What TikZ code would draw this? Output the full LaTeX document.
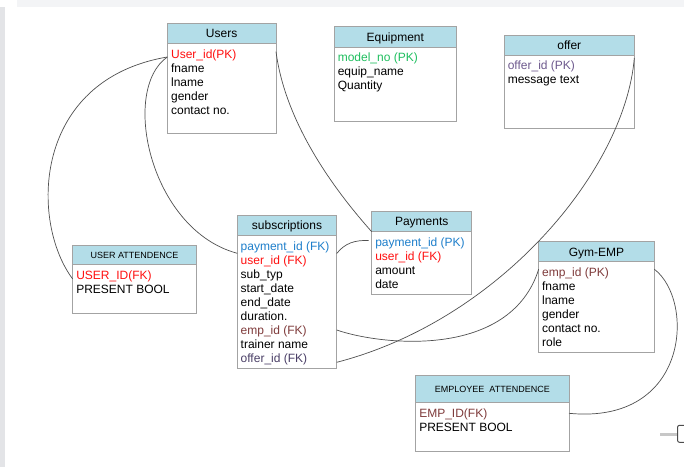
\documentclass[tikz,border=0pt]{standalone}
\usepackage{fontspec}
\setmainfont{Liberation Sans}
\usetikzlibrary{calc}
\definecolor{hdrfill}{HTML}{B3DDE8}
\definecolor{bordergray}{HTML}{A3A3A3}
\definecolor{linkgray}{HTML}{505050}
\definecolor{topband}{HTML}{F3F4F6}
\definecolor{leftstrip}{HTML}{E3E4E7}
\definecolor{pkred}{HTML}{FF1010}
\definecolor{pkgreen}{HTML}{1FBF5F}
\definecolor{pkblue}{HTML}{1E7FCB}
\definecolor{pkbrown}{HTML}{7F3B3B}
\definecolor{pkpurple}{HTML}{6E5A8E}
\definecolor{fkpurple}{HTML}{4A3F66}
\newcommand{\firststrut}{\rule{0pt}{10pt}}
\begin{document}
\begin{tikzpicture}[x=1pt,y=-1pt,
  hdr/.style={draw=bordergray, fill=hdrfill, line width=0.8pt, anchor=north west,
    inner sep=0pt, outer sep=0pt, font=\fontsize{12}{14}\selectfont,
    text height=8.6pt, text depth=0pt},
  smallhdr/.style={hdr, font=\fontsize{9}{11}\selectfont, text height=6.4pt},
  bodybox/.style={draw=bordergray, fill=white, line width=0.8pt, anchor=north west,
    inner sep=0pt, outer sep=0pt},
  fields/.style={anchor=north west, align=left, inner sep=0pt, outer sep=0pt,
    font=\fontsize{12}{14}\selectfont},
  link/.style={draw=linkgray, line width=0.7pt}]
\useasboundingbox (0,0) rectangle (684,467);
\begin{scope}
\clip (0,0) rectangle (684,467);
\fill[white] (0,0) rectangle (684,467);
\fill[topband] (17,0) rectangle (684,6.7);
\fill[leftstrip] (0,7) rectangle (5,467);
% bottom-right widget
\draw[line width=3pt, draw=black!22] (660,434.7) -- (677.5,434.7);
\draw[rounded corners=2pt, draw=black!70, fill=white, line width=1pt] (677.5,425.3) rectangle (692,442.3);

% Users
\node[bodybox, minimum width=108.7pt, minimum height=90pt] (usersB) at (167.3,43.7) {};
\node[hdr, minimum width=108.7pt, minimum height=20.4pt] (usersH) at (167.3,23.3) {Users};
\node[fields] (usersT) at ($(usersB.north west)+(3.8,4.5)$)
  {\firststrut\textcolor{pkred}{User\_id(PK)}\\fname\\lname\\gender\\contact no.};

% Equipment
\node[bodybox, minimum width=122pt, minimum height=74pt] (equipB) at (334.3,47) {};
\node[hdr, minimum width=122pt, minimum height=20.3pt] (equipH) at (334.3,26.7) {Equipment};
\node[fields] (equipT) at ($(equipB.north west)+(3.5,4.5)$)
  {\firststrut\textcolor{pkgreen}{model\_no (PK)}\\equip\_name\\Quantity};

% offer
\node[bodybox, minimum width=130pt, minimum height=72.7pt] (offerB) at (504.3,55.3) {};
\node[hdr, minimum width=130pt, minimum height=20pt] (offerH) at (504.3,35.3) {offer};
\node[fields] (offerT) at ($(offerB.north west)+(3.5,4.5)$)
  {\firststrut\textcolor{pkpurple}{offer\_id (PK)}\\message text};

% subscriptions
\node[bodybox, minimum width=99.4pt, minimum height=133pt] (subsB) at (237.3,235.3) {};
\node[hdr, minimum width=99.4pt, minimum height=20pt] (subsH) at (237.3,215.3) {subscriptions};
\node[fields] (subsT) at ($(subsB.north west)+(3.4,4.7)$)
  {\firststrut\textcolor{pkblue}{payment\_id (FK)}\\\textcolor{pkred}{user\_id (FK)}\\sub\_typ\\start\_date\\end\_date\\duration.\\\textcolor{pkbrown}{emp\_id (FK)}\\trainer name\\\textcolor{fkpurple}{offer\_id (FK)}};

% USER ATTENDENCE
\node[bodybox, minimum width=123.6pt, minimum height=49pt] (uattB) at (72.7,264.3) {};
\node[smallhdr, minimum width=123.6pt, minimum height=19pt] (uattH) at (72.7,245.3) {USER ATTENDENCE};
\node[fields] (uattT) at ($(uattB.north west)+(3.6,4.7)$)
  {\firststrut\textcolor{pkred}{USER\_ID(FK)}\\PRESENT BOOL};

% Payments
\node[bodybox, minimum width=100pt, minimum height=62.6pt] (payB) at (371.7,231.7) {};
\node[hdr, minimum width=100pt, minimum height=20.7pt] (payH) at (371.7,211) {Payments};
\node[fields] (payT) at ($(payB.north west)+(3.6,4.8)$)
  {\firststrut\textcolor{pkblue}{payment\_id (PK)}\\\textcolor{pkred}{user\_id (FK)}\\amount\\date};

% Gym-EMP
\node[bodybox, minimum width=115.6pt, minimum height=90.6pt] (gymB) at (538.7,261.7) {};
\node[hdr, minimum width=115.6pt, minimum height=20pt] (gymH) at (538.7,241.7) {Gym-EMP};
\node[fields] (gymT) at ($(gymB.north west)+(3.4,4.5)$)
  {\firststrut\textcolor{pkbrown}{emp\_id (PK)}\\fname\\lname\\gender\\contact no.\\role};

% EMPLOYEE ATTENDENCE
\node[bodybox, minimum width=153.3pt, minimum height=48.7pt] (eattB) at (415.7,402.3) {};
\node[smallhdr, minimum width=153.3pt, minimum height=26.6pt] (eattH) at (415.7,375.7) {EMPLOYEE\ \ ATTENDENCE};
\node[fields] (eattT) at ($(eattB.north west)+(3.6,4.9)$)
  {\firststrut\textcolor{pkbrown}{EMP\_ID(FK)}\\PRESENT BOOL};

% connectors
\draw[link] ($(usersB.north west)+(0,13.3)$) .. controls (32,80) and (30,222) .. ($(uattB.north west)+(0,14.7)$);
\draw[link] ($(usersB.north west)+(0,13.3)$) .. controls (120,90) and (150,230) .. ($(subsB.north west)+(0,18)$);
\draw[link] ($(usersB.north east)+(0,8)$) .. controls (285,120) and (330,185) .. (payH.south west);
\draw[link] ($(subsB.north east)+(0,18.2)$) .. controls (345,243) and (355,240) .. ($(payB.north west)+(-3,8.8)$);
\draw[link] ($(subsB.north east)+(0,94.7)$) .. controls (380,345) and (510,360) .. ($(gymB.north west)+(0,7.5)$);
\draw[link] ($(subsB.north east)+(0,127)$) .. controls (500,320) and (625,170) .. ($(offerB.north east)+(0,2.7)$);
\draw[link] ($(gymB.north east)+(0,7.5)$) .. controls (695,300) and (690,425) .. ($(eattB.north east)+(0,11)$);
\end{scope}
\end{tikzpicture}
\end{document}
